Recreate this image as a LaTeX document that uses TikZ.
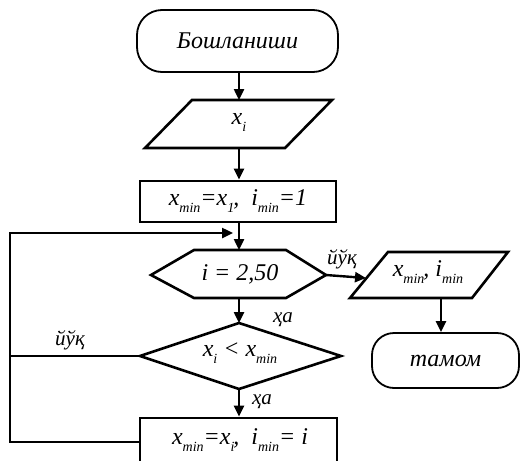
\documentclass[tikz,border=0pt]{standalone}
\usepackage{fontspec}
\setmainfont{Liberation Serif}
\usetikzlibrary{arrows.meta}
\newcommand{\sbx}[1]{\raisebox{-7pt}{\fontsize{14}{14}\selectfont #1}}
\tikzset{
  big/.style={font=\fontsize{24}{24}\selectfont\itshape},
  lbl/.style={font=\fontsize{21}{21}\selectfont\itshape},
  shp/.style={draw, line width=2.6pt, line join=miter},
  term/.style={draw, line width=1.8pt, rounded corners=25pt, big},
  conn/.style={line width=2.4pt},
  arr/.style={line width=2.4pt, -{Triangle[length=11pt,width=10pt]}},
}
\begin{document}
\begin{tikzpicture}[x=1pt,y=-1pt]
\useasboundingbox (0,0) rectangle (520,461);
\clip (0,0) rectangle (520,461);
\fill[white] (0,0) rectangle (520,461);
% start
\node[term, minimum width=201pt, minimum height=62pt] (start) at (237.5,41) {Бошланиши};
% input parallelogram
\coordinate (p1t) at (239,100);
\coordinate (p1b) at (239,148);
\draw[shp] (145,148) -- (192,100) -- (332,100) -- (285,148) -- cycle;
\node[big] (p1) at (239,122) {x\sbx{i}};
% rect1
\node[shp, minimum width=196pt, minimum height=41pt, big] (r1) at (238,201.5) {x\sbx{min}=x\sbx{1}\kern-1pt,\ \ i\sbx{min}=1};
% hexagon
\coordinate (hl) at (151,275);
\coordinate (hr) at (326,275);
\coordinate (ht) at (239,250);
\coordinate (hb) at (239,298);
\draw[shp] (hl) -- (194,250) -- (286,250) -- (hr) -- (286,298) -- (194,298) -- cycle;
\node[big] (hx) at (240,274) {i = 2,50};
% output parallelogram
\coordinate (ol) at (366,278);
\coordinate (ob) at (441,298);
\draw[shp] (350,298) -- (388,252) -- (508,252) -- (472,298) -- cycle;
\node[big] (ox) at (428,272) {x\sbx{min}\kern-1pt,\ i\sbx{min}};
% end
\node[term, minimum width=147pt, minimum height=55pt, rounded corners=22pt] (end) at (445.5,360.5) {тамом};
% diamond
\coordinate (dl) at (140,356);
\coordinate (dr) at (341,356);
\coordinate (dt) at (239,323);
\coordinate (db) at (239,389);
\draw[shp] (dl) -- (dt) -- (dr) -- (db) -- cycle;
\node[big] (dx) at (240,353) {x\sbx{i} < x\sbx{min}};
% rect2
\node[shp, minimum width=197pt, minimum height=52pt, big] (r2) at (238.5,444) {};
\node[big] (r2t) at (240,440) {x\sbx{min}=x\sbx{i}\kern-1pt,\ \ i\sbx{min}= i};
% loop corner coordinates
\coordinate (lb) at (10,442);
\coordinate (lt) at (10,233);
\coordinate (la) at (233,233);
\coordinate (ld) at (10,356);
% connectors
\draw[arr] (start.south -| p1t) -- (p1t);
\draw[arr] (p1b) -- (r1.north -| p1b);
\draw[arr] (r1.south -| ht) -- (ht);
\draw[arr] (hr) -- (ol);
\draw[arr] (ob) -- (end.north -| ob);
\draw[arr] (hb) -- (dt);
\draw[arr] (db) -- (r2.north -| db);
\draw[conn] (dl) -- (ld);
\draw[arr] (r2.west |- lb) -- (lb) -- (lt) -- (la);
% labels
\node[lbl] (l1) at (342,259) {йўқ};
\node[lbl] (l2) at (283,320) {ҳа};
\node[lbl] (l3) at (70,340) {йўқ};
\node[lbl] (l4) at (262,402) {ҳа};
\end{tikzpicture}
\end{document}
